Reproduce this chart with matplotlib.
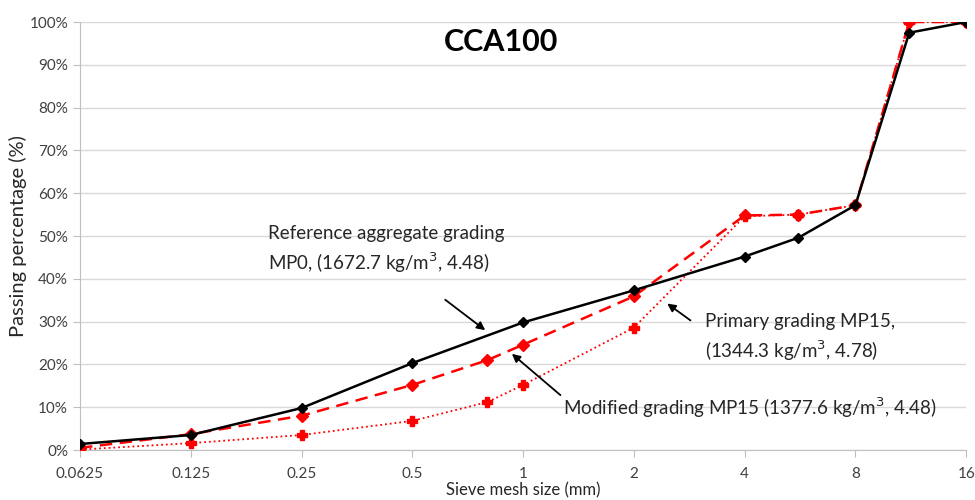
import matplotlib.pyplot as plt
from matplotlib.ticker import FixedLocator, NullLocator, PercentFormatter

plt.rcParams['font.family'] = ['Lato', 'DejaVu Sans']

# sieve sizes (mm) and passing percentages
sieve_ref = [0.0625, 0.125, 0.25, 0.5, 1, 2, 4, 5.6, 8, 11.2, 16]
ref_mp0 = [1.4, 3.5, 9.8, 20.3, 29.8, 37.3, 45.2, 49.6, 57.2, 97.5, 100]

sieve_mp15 = [0.0625, 0.125, 0.25, 0.5, 0.8, 1, 2, 4, 5.6, 8, 11.2, 16]
modified_mp15 = [0.5, 3.7, 8.0, 15.2, 21.0, 24.6, 35.9, 54.8, 55.0, 57.2, 100, 100]
primary_mp15 = [0.1, 1.6, 3.5, 6.8, 11.2, 15.2, 28.6, 54.6, 55.0, 57.2, 100, 100]

xticks = [0.0625, 0.125, 0.25, 0.5, 1, 2, 4, 8, 16]
xtick_labels = ['0.0625', '0.125', '0.25', '0.5', '1', '2', '4', '8', '16']


def main():
    fig = plt.figure(figsize=(9.75, 5), dpi=100)
    ax = fig.add_axes([0.082, 0.1, 0.909, 0.856])

    ax.plot(sieve_mp15, primary_mp15, color='red', linestyle=':', linewidth=1.3,
            marker='P', markersize=7, zorder=3)
    ax.plot(sieve_mp15, modified_mp15, color='red', linestyle=(0, (5, 3)), linewidth=1.8,
            marker='D', markersize=6, zorder=4)
    ax.plot(sieve_ref, ref_mp0, color='black', linewidth=1.8,
            marker='D', markersize=5.5, zorder=5)

    ax.set_xscale('log', base=2)
    ax.set_xlim(0.0625, 16)
    ax.set_ylim(0, 100)
    ax.xaxis.set_major_locator(FixedLocator(xticks))
    ax.xaxis.set_minor_locator(NullLocator())
    ax.set_xticklabels(xtick_labels)
    ax.set_yticks(range(0, 101, 10))
    ax.yaxis.set_major_formatter(PercentFormatter(decimals=0))

    ax.grid(axis='y', color='#d9d9d9', linewidth=1)
    ax.set_axisbelow(True)
    for s in ['top', 'right']:
        ax.spines[s].set_visible(False)
    for s in ['left', 'bottom']:
        ax.spines[s].set_color('#bfbfbf')
    ax.tick_params(axis='both', colors='#bfbfbf', labelcolor='#404040', labelsize=11, length=5)
    ax.tick_params(axis='x', pad=7)

    ax.set_ylabel('Passing percentage (%)', fontsize=14.5, color='#262626', labelpad=2)
    ax.set_xlabel('Sieve mesh size (mm)', fontsize=12, color='#262626', labelpad=1)

    ax.text(0.514, 0.944, 'CCA100', transform=fig.transFigure, ha='center', va='top',
            fontsize=22, fontweight='bold')

    arrow = dict(arrowstyle='-|>', color='black', lw=1.3, mutation_scale=12)
    ax.text(0.203, 46.7, 'Reference aggregate grading\nMP0, (1672.7 kg/m$^3$, 4.48)',
            fontsize=13.5, ha='left', va='center', linespacing=1.45, color='#262626')
    ax.annotate('', xy=(0.80, 27.6), xytext=(0.606, 35.5), arrowprops=arrow)

    ax.text(3.12, 26.2, 'Primary grading MP15,\n(1344.3 kg/m$^3$, 4.78)',
            fontsize=13.5, ha='left', va='center', linespacing=1.45, color='#262626')
    ax.annotate('', xy=(2.43, 34.6), xytext=(2.89, 29.9), arrowprops=arrow)

    ax.text(1.28, 9.8, 'Modified grading MP15 (1377.6 kg/m$^3$, 4.48)',
            fontsize=13.5, ha='left', va='center', color='#262626')
    ax.annotate('', xy=(0.92, 22.9), xytext=(1.28, 12.4), arrowprops=arrow)

    fig.savefig('out.png', dpi=100)


if __name__ == '__main__':
    main()
